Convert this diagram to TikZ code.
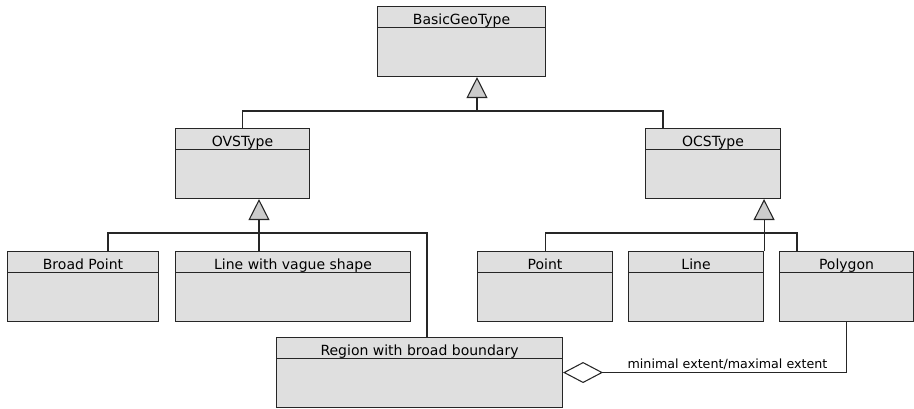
\documentclass[tikz,border=0pt]{standalone}
\usepackage{fontspec}
\setmainfont{DejaVu Sans}
\usetikzlibrary{arrows.meta}

\begin{document}
\begin{tikzpicture}[
    x=0.75pt, y=-0.75pt,
    cls/.style={
        draw=black!85,
        fill=gray!25,
        line width=0.8pt,
        anchor=north west,
        inner sep=0pt,
        minimum height=52.5pt,
        text height=13.5pt,
        text depth=39pt,
        font=\fontsize{10.5}{12}\selectfont,
        path picture={\draw[black!85, line width=0.8pt]
            ([yshift=-15.75pt]path picture bounding box.north west) --
            ([yshift=-15.75pt]path picture bounding box.north east);},
    },
    ln/.style={draw=black!85, line width=0.8pt},
    inh/.style={ln,
        -{Triangle[fill=gray!40, length=15.75pt, width=15.75pt]},
    },
    agg/.style={ln,
        -{Diamond[open, length=30pt, width=15.75pt]},
    },
    tag/.style={font=\fontsize{9.5}{11}\selectfont, inner sep=2pt},
]
    \useasboundingbox (0,0) rectangle (914,409);
    % ~~~ classes ~~~~~~~~~~~~
    \node[cls, minimum width=126pt]    (basic)   at (377,6)   {BasicGeoType};
    \node[cls, minimum width=100.5pt]  (ovs)     at (175,128) {OVSType};
    \node[cls, minimum width=101.25pt] (ocs)     at (645,128) {OCSType};
    \node[cls, minimum width=113.25pt] (bpoint)  at (7,251)   {Broad Point};
    \node[cls, minimum width=176.25pt] (vline)   at (175,251) {Line with vague shape};
    \node[cls, minimum width=214.5pt]  (region)  at (276,337) {Region with broad boundary};
    \node[cls, minimum width=101.25pt] (point)   at (477,251) {Point};
    \node[cls, minimum width=101.25pt] (line)    at (628,251) {Line};
    \node[cls, minimum width=100.5pt]  (polygon) at (779,251) {Polygon};
    % ~~~ joints ~~~~~~~~~~~~
    \coordinate (j0) at (477,111);
    \coordinate (j1) at ([xshift=63pt]vline.north west);
    \coordinate (j2) at ([xshift=75.75pt]bpoint.north west);
    \coordinate (j3) at ([xshift=113.25pt]region.north west);
    \coordinate (j4) at ([xshift=13.5pt]polygon.north west);
    \coordinate (j5) at ([xshift=13.5pt]ocs.north west);
    % ~~~ generalisation ~~~~~~~~~
    \draw[inh] (ovs.north) |- (j0) -- (j0 |- basic.south);
    \draw[ln] (j5) |- (j0);
    \draw[inh] (j1) -- (j1 |- ovs.south);
    \draw[ln] (j2) -- ++(0,-18) -| (j3);
    \draw[inh] (line.north east) -- (line.north east |- ocs.south);
    \draw[ln] (point.north) -- ++(0,-18) -| (j4);
    % ~~~ aggregation ~~~~~~~~~
    \draw[agg] (polygon.south) |- node[tag, pos=0.71, above] (ext)
        {minimal extent/maximal extent} (region.east);
\end{tikzpicture}
\end{document}
